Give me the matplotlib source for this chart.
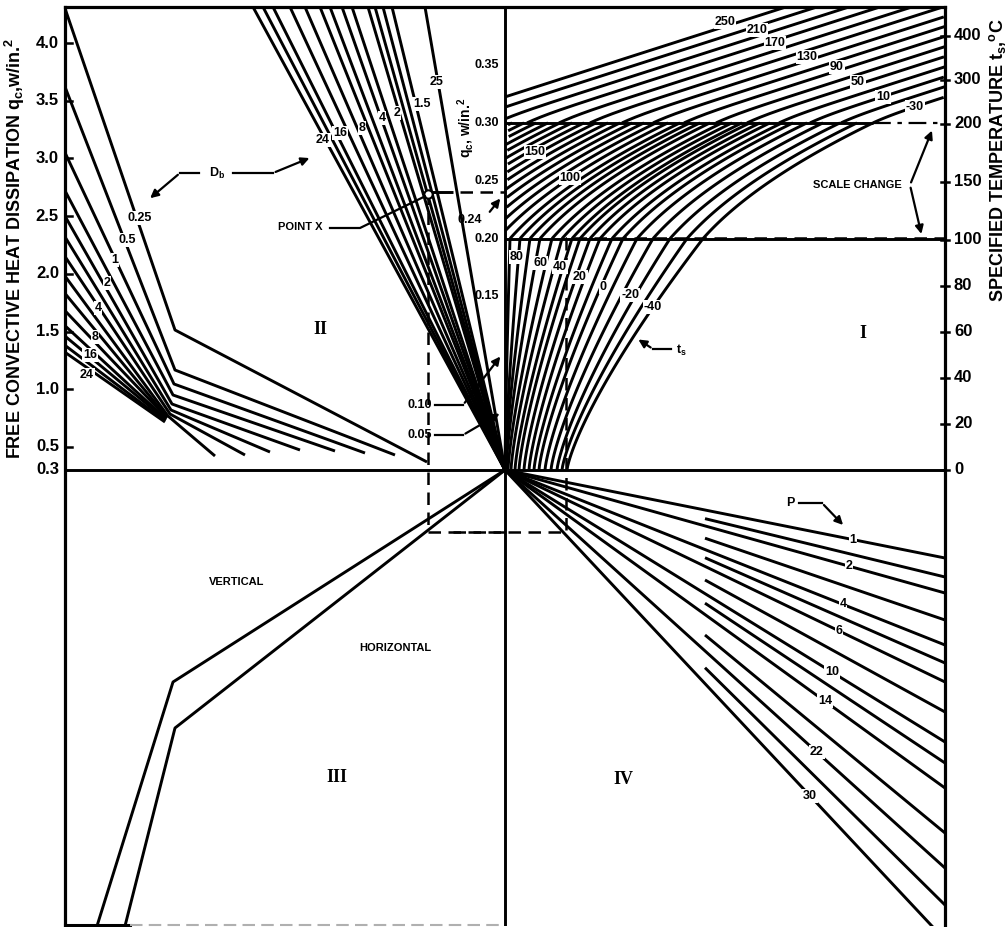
import numpy as np
import matplotlib.pyplot as plt

plt.rcParams['font.family'] = ['Liberation Sans', 'DejaVu Sans']
plt.rcParams['font.weight'] = 'bold'
plt.rcParams['mathtext.fontset'] = 'custom'
plt.rcParams['mathtext.rm'] = 'Liberation Sans:bold'
plt.rcParams['mathtext.it'] = 'Liberation Sans:bold'
plt.rcParams['mathtext.bf'] = 'Liberation Sans:bold'

# ---------------------------------------------------------------
# nomograph data (grid units, origin at the centre of the sheet)
# ---------------------------------------------------------------

# outer left scale, q (W/in^2)
left_ticks = [0.3, 0.5, 1.0, 1.5, 2.0, 2.5, 3.0, 3.5, 4.0]
# middle scale, q_c (W/in^2)
mid_ticks = [0.35, 0.30, 0.25, 0.20, 0.15]
# right scale, t_s (deg C)
temp_ticks = [0, 20, 40, 60, 80, 100, 150, 200, 300, 400]

# quadrant II : D_b curves, start on left scale, knee, end
db_values = [0.25, 0.5, 0.75, 1, 1.5, 2, 3, 4, 6, 8, 12, 16, 20, 24]
db_start_q = [4.30, 3.62, 3.05, 2.72, 2.50, 2.32, 2.15, 1.98, 1.83, 1.68, 1.55, 1.46, 1.38, 1.32]
db_knee_x = [-330, -330, -331, -332, -333, -334, -335, -337, -338, -338, -339, -339, -340, -340]
db_knee_y = [140, 100, 86, 75, 66, 60, 56, 54, 53, 52, 51, 50, 49, 48]
db_end_x = [-78, -110, -140, -170, -205, -235, -260, -290, None, None, None, None, None, None]
db_end_y = [8, 15, 17, 19, 20, 18, 15, 14, None, None, None, None, None, None]

# quadrant II : fan through the origin, position where each meets the top edge
fan_top_x = [-252, -242, -232, -215, -200, -185, -175, -163, -153, -137, -130, -122, -113, -80]

# quadrant I : t_s curves
ts_lower_values = [120, 110, 100, 90, 80, 70, 60, 50, 40, 30, 20, 10, 0, -10, -20, -30, -40]
ts_lower_start = [0, 0, 0, 1, 3, 6, 10, 14, 19, 24, 29, 34, 40, 46, 52, 57, 62]
ts_lower_end = [5, 15, 25, 35, 47, 57, 67, 75, 85, 95, 107, 118, 132, 148, 165, 182, 198]
ts_mid_extra = [-7, -19, -31, -43, -55, -67, -79, -91, -103, -115, -127, -139, -151, -163]
ts_upper_values = [250, 230, 210, 190, 170, 150, 130, 110, 90, 70, 50, 30, 10, -10, -30]
ts_upper_start = [-72, -41, -9, 22, 54, 85, 117, 148, 179, 211, 242, 274, 305, 336, 368]

# quadrant IV : P lines, drop at the right edge
p_values = [1, 1.5, 2, 3, 4, 5, 6, 8, 10, 12, 14, 18, 22, 26, 30]
p_drop = [88, 107, 123, 150, 175, 193, 212, 242, 272, 293, 318, 363, 398, 435, 470]

# quadrant III : orientation turning lines
vert_x = [0, -332, -408]
vert_y = [0, -212, -456]
horiz_x = [0, -330, -380]
horiz_y = [0, -258, -456]

# worked example
qc_example = 0.24
point_x = -77
example_low = -62
example_right = 61
example_temp = 102

X0, X1, Y0, Y1 = -440, 440, -456, 463


def left_scale(q):
    return (np.asarray(q, float) - 0.3) * 115.4


def mid_scale(qc):
    return np.asarray(qc, float) * 1157.0


def temp_scale(t):
    t = np.asarray(t, float)
    return np.where(t <= 100, 2.3 * t,
                    np.where(t <= 200, 230 + 1.16 * (t - 100), 346 + 0.44 * (t - 200)))


fig = plt.figure(figsize=(10.07, 9.27), dpi=100)
ax = fig.add_axes([65 / 1007, 1 / 927, 880 / 1007, 919 / 927])
ax.set_xlim(X0, X1)
ax.set_ylim(Y0, Y1)
ax.set_xticks([])
ax.set_yticks([])
for side in ['left', 'top', 'right']:
    ax.spines[side].set_linewidth(2.3)
ax.spines['bottom'].set_visible(False)

LW = 2.1
kw = dict(color='black', lw=LW, solid_capstyle='butt')
lab = dict(fontsize=9, ha='center', va='center',
           bbox=dict(facecolor='white', edgecolor='none', pad=0.6))

# bottom edge, faded in the scan
ax.plot([X0, -375], [Y0 + 1, Y0 + 1], color='black', lw=2.2, clip_on=False)
ax.plot([-375, 0], [Y0 + 1, Y0 + 1], color='#b0b0b0', lw=1.5, ls=(0, (6, 3)), clip_on=False)

# centre cross
ax.plot([0, 0], [Y0, Y1], **kw)
ax.plot([X0, X1], [0, 0], **kw)

# ---- quadrant II : D_b ----
y_start = left_scale(db_start_q)
for i in range(len(db_values)):
    xs = [X0, db_knee_x[i]]
    ys = [float(y_start[i]), db_knee_y[i]]
    if db_end_x[i] is not None:
        xs.append(db_end_x[i])
        ys.append(db_end_y[i])
    ax.plot(xs, ys, **kw)

for txt, (x, y) in zip(['0.25', '0.5', '1', '2', '4', '8', '16', '24'],
                       [(-365, 252), (-378, 230), (-390, 210), (-398, 187),
                        (-407, 162), (-410, 133), (-415, 115), (-418, 95)]):
    ax.text(x, y, txt, **lab)

# fan through the origin
for xt in fan_top_x:
    ax.plot([xt, 0], [Y1, 0], **kw)
for txt, (x, y) in zip(['24', '16', '8', '4', '2', '1.5', '25'],
                       [(-182, 330), (-165, 337), (-143, 342), (-123, 352),
                        (-108, 357), (-83, 366), (-68, 388)]):
    ax.text(x, y, txt, **lab)

# ---- quadrant I : t_s ----
v20 = float(mid_scale(0.20))
v30 = float(mid_scale(0.30))
s = np.linspace(0, 1, 60)
for a, b in zip(ts_lower_start, ts_lower_end):
    ax.plot(a + (b - a) * s ** 1.3, v20 * s, **kw)

for b in ts_lower_end + ts_mid_extra:
    xs = b + 170 * (0.6 * s + 0.4 * s ** 2)
    ys = v20 + (v30 - v20) * s
    keep = xs >= 0
    if keep.sum() > 1:
        ax.plot(xs[keep], ys[keep], **kw)

d = np.linspace(0, 600, 400)
for x0 in ts_upper_start:
    xs = x0 + d
    ys = v30 + 0.32 * d + 3 * (1 - np.exp(-d / 20))
    keep = (xs >= 0) & (xs <= X1) & (ys <= Y1)
    ax.plot(xs[keep], ys[keep], **kw)

ax.plot([0, X1], [v20, v20], **kw)
ax.plot([0, 368], [v30, v30], **kw)
ax.plot([368, X1], [v30, v30], color='black', lw=1.6, ls=(0, (8, 3, 2, 3)))

for txt, (x, y) in zip(['80', '60', '40', '20', '0', '-20', '-40'],
                       [(12, 213), (35, 207), (55, 203), (75, 193), (98, 183), (125, 175), (148, 163)]):
    ax.text(x, y, txt, **lab)
ax.text(30, 318, '150', **lab)
ax.text(65, 292, '100', **lab)
for txt, (x, y) in zip(['250', '210', '170', '130', '90', '50', '10', '-30'],
                       [(220, 448), (252, 440), (270, 427), (302, 413),
                        (332, 403), (353, 388), (378, 373), (410, 363)]):
    ax.text(x, y, txt, **lab)

# ---- quadrant IV : P ----
for i, dr in enumerate(p_drop):
    x_start = 0 if i % 2 == 0 else 200
    ax.plot([x_start, X1], [-dr * x_start / X1, -dr], **kw)
for txt, x in zip(['1', '2', '4', '6', '10', '14', '22', '30'],
                  [348, 344, 338, 334, 327, 320, 312, 305]):
    dr = p_drop[p_values.index(float(txt))]
    ax.text(x, -dr * x / X1, txt, **lab)

# ---- quadrant III ----
ax.plot(vert_x, vert_y, **kw)
ax.plot(horiz_x, horiz_y, **kw)

# ---- worked example ----
ye = float(mid_scale(qc_example))
yt = float(temp_scale(example_temp))
dash = dict(color='black', lw=1.8, ls=(0, (5, 3)))
ax.plot([point_x, -52], [ye, ye], **kw)
ax.plot([-45, 0], [ye, ye], **dash)
ax.plot([point_x, point_x, example_right, example_right, X1],
        [ye, example_low, example_low, yt, yt], **dash)
ax.plot([-52, 0], [example_low, example_low], **dash)
ax.plot([point_x], [ye - 2], marker='o', ms=6, mfc='white', mec='black', mew=1.5)

# ---- annotations ----
arr = dict(arrowstyle='-|>', color='black', lw=1.6, mutation_scale=12)
ax.text(-288, 297, 'D$_b$', fontsize=9, ha='center', va='center')
ax.plot([-306, -325], [297, 297], color='black', lw=1.6)
ax.annotate('', xy=(-357, 270), xytext=(-325, 297), arrowprops=arr)
ax.plot([-272, -232], [297, 297], color='black', lw=1.6)
ax.annotate('', xy=(-193, 313), xytext=(-232, 297), arrowprops=arr)

ax.text(-205, 243, 'POINT X', fontsize=8, ha='center', va='center')
ax.plot([-175, -145, point_x - 3], [242, 242, ye - 4], color='black', lw=1.6)

ax.text(-85, 65, '0.10', fontsize=9, ha='center', va='center')
ax.plot([-70, -42], [65, 65], color='black', lw=1.6)
ax.annotate('', xy=(-3, float(mid_scale(0.10))), xytext=(-42, 65), arrowprops=arr)
ax.text(-85, 35, '0.05', fontsize=9, ha='center', va='center')
ax.plot([-70, -42], [35, 35], color='black', lw=1.6)
ax.annotate('', xy=(-3, float(mid_scale(0.05))), xytext=(-42, 35), arrowprops=arr)
ax.text(-35, 250, '0.24', fontsize=9, ha='center', va='center')
ax.annotate('', xy=(-3, ye - 4), xytext=(-17, 256), arrowprops=arr)

ax.text(285, -33, 'P', fontsize=9, ha='center', va='center')
ax.plot([294, 317], [-33, -33], color='black', lw=1.6)
ax.annotate('', xy=(340, -57), xytext=(317, -33), arrowprops=arr)

ax.text(176, 120, 't$_s$', fontsize=9, ha='center', va='center')
ax.plot([166, 148], [121, 121], color='black', lw=1.6)
ax.annotate('', xy=(131, 132), xytext=(148, 121), arrowprops=arr)

ax.text(352, 285, 'SCALE CHANGE', fontsize=8, ha='center', va='center')
ax.annotate('', xy=(428, float(temp_scale(200)) - 4), xytext=(405, 285), arrowprops=arr)
ax.annotate('', xy=(417, yt + 1), xytext=(405, 285), arrowprops=arr)

roman = dict(fontsize=13, ha='center', va='center', family=['Liberation Serif', 'DejaVu Serif'])
ax.text(358, 137, 'I', **roman)
ax.text(-185, 140, 'II', **roman)
ax.text(-168, -308, 'III', **roman)
ax.text(118, -310, 'IV', **roman)
ax.text(-268, -112, 'VERTICAL', fontsize=8, ha='center', va='center')
ax.text(-110, -178, 'HORIZONTAL', fontsize=8, ha='center', va='center')

# ---- scales ----
for q in left_ticks:
    y = float(left_scale(q))
    if q != 0.3:
        ax.plot([X0, X0 + 7], [y, y], color='black', lw=1.8)
    ax.text(X0 - 6, y, f'{q:.1f}', fontsize=12, ha='right', va='center', clip_on=False)
for t in temp_ticks:
    y = float(temp_scale(t))
    ax.plot([X1 - 4, X1 + 4], [y, y], color='black', lw=1.8, clip_on=False)
    ax.text(X1 + 9, y, f'{t}', fontsize=12, ha='left', va='center', clip_on=False)
for qc in mid_ticks:
    ax.text(-6, float(mid_scale(qc)), f'{qc:.2f}', fontsize=9, ha='right', va='center')

ax.text(-490, 222, 'FREE CONVECTIVE HEAT DISSIPATION q$_c$,w/in.$^2$', fontsize=13,
        rotation=90, ha='center', va='center', clip_on=False)
ax.text(493, 310, 'SPECIFIED TEMPERATURE t$_s$,$^o$C', fontsize=13,
        rotation=90, ha='center', va='center', clip_on=False)
ax.text(-39, 342, 'q$_c$, w/in.$^2$', fontsize=10, rotation=90, ha='center', va='center')

fig.savefig('out.png', dpi=100, facecolor='white')
